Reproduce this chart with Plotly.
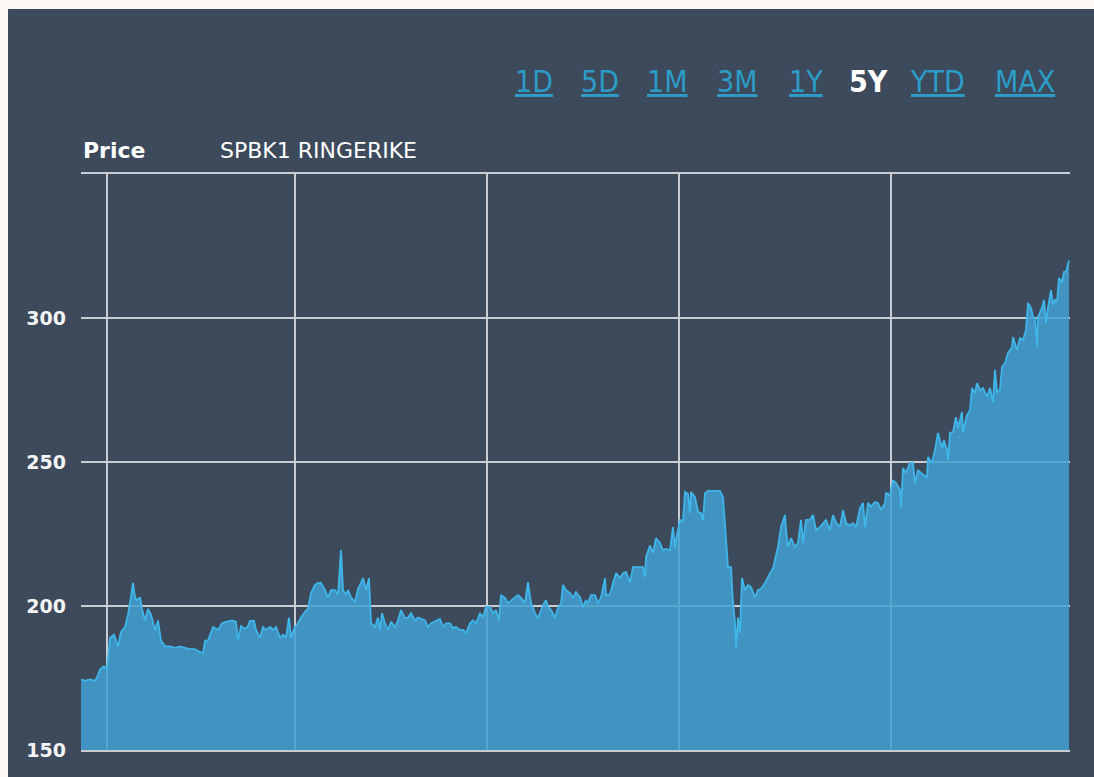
import plotly.graph_objects as go

# Closing price per trading session (session 0 = first day of the 5Y window)
session = [
    0, 4, 9, 14, 17, 19, 23, 26, 29, 33,
    37, 40, 44, 47, 49, 52, 54, 56, 59, 61,
    64, 67, 70, 74, 77, 80, 84, 89, 94, 99,
    104, 109, 114, 119, 122, 124, 127, 132, 137, 141,
    145, 151, 155, 157, 160, 164, 167, 169, 173, 175,
    179, 182, 185, 189, 192, 195, 199, 202, 205, 208,
    210, 214, 217, 220, 224, 227, 230, 234, 237, 240,
    244, 247, 250, 254, 257, 260, 262, 265, 267, 270,
    274, 277, 280, 282, 285, 288, 290, 294, 297, 299,
    301, 304, 307, 310, 314, 317, 320, 324, 327, 330,
    334, 337, 344, 347, 350, 355, 359, 362, 365, 369,
    372, 375, 379, 382, 385, 389, 392, 395, 399, 402,
    405, 409, 412, 415, 418, 420, 424, 427, 430, 434,
    437, 440, 444, 447, 450, 454, 457, 460, 463, 465,
    467, 470, 474, 477, 480, 482, 485, 489, 492, 495,
    499, 502, 505, 507, 510, 514, 517, 520, 524, 525,
    529, 532, 535, 539, 542, 545, 549, 552, 555, 559,
    562, 564, 565, 569, 572, 575, 579, 582, 585, 589,
    592, 594, 595, 599, 602, 604, 607, 609, 610, 614,
    617, 620, 622, 624, 627, 632, 637, 639, 642, 644,
    647, 650, 652, 654, 655, 657, 659, 661, 664, 667,
    670, 674, 677, 680, 684, 690, 692, 697, 700, 704,
    705, 707, 710, 714, 717, 720, 722, 725, 729, 732,
    735, 739, 742, 745, 749, 752, 755, 759, 762, 765,
    769, 772, 775, 779, 782, 784, 787, 790, 794, 797,
    800, 804, 805, 809, 812, 815, 819, 820, 822, 825,
    829, 832, 834, 837, 840, 843, 846, 847, 851, 854,
    857, 861, 863, 866, 867, 869, 872, 875, 877, 881,
    882, 886, 889, 891, 894, 896, 899, 902, 906, 909,
    912, 914, 916, 919, 921, 924, 927, 931, 932, 936,
    939, 942, 945, 947, 950, 952, 954, 956, 957, 961,
    963, 965, 967, 970, 972, 974, 976, 978, 981, 983,
    985, 987, 988,
]

price = [
    174.5, 174, 174.5, 174, 176, 178, 179, 178, 189, 190,
    186, 191, 192.7, 197, 201, 208, 203, 202, 203, 199,
    195, 199, 197, 191.7, 195, 188, 186, 186, 185.5, 186,
    185.5, 185, 185, 184, 183.7, 188, 188, 192.7, 191.7, 194,
    194.5, 195, 194.5, 188, 193, 192, 193, 194.8, 194.8, 191.7,
    189, 192.7, 191.7, 192.7, 191.7, 192.7, 189, 190, 189, 196,
    189, 192.7, 194, 196, 198, 199, 204.5, 207.3, 208, 208,
    205.5, 203, 205.5, 205.5, 204, 219.4, 205.5, 204, 205.5, 203,
    201.4, 206, 208, 209.7, 205.5, 209.7, 194, 192.7, 196, 191.7,
    197.5, 194, 191.7, 194.5, 192.7, 195, 198.6, 195.8, 196, 197.5,
    195, 196, 195, 192.7, 194, 195, 195.5, 192.7, 194, 194,
    192.4, 192.7, 191.7, 191.7, 190.6, 194, 195, 194, 197.5, 196,
    199.7, 199.7, 197.5, 198.6, 195, 203.8, 202.8, 201, 202, 203,
    203.8, 202.8, 201, 208.3, 201, 197.5, 195.8, 198.6, 201, 202,
    199.7, 198.6, 196, 199.3, 201, 207.3, 205.5, 204.5, 202.8, 204.8,
    203, 199.7, 202, 201, 203.8, 203.8, 201, 203, 209.7, 203.8,
    204, 208, 211.4, 209.7, 211.4, 211.8, 208.3, 213.5, 213.5, 213.5,
    213.5, 210, 217, 221, 218.4, 223.6, 221.9, 219.4, 219.8, 219.4,
    227.4, 220, 222.9, 229.9, 229.5, 239.6, 239, 232.3, 239.6, 237.8,
    232.7, 232.3, 229.9, 239.2, 240, 240, 240, 240, 237.8, 228.8,
    213.5, 213.5, 201, 194, 185.4, 196, 190.6, 209.7, 205.5, 207.3,
    206.6, 203, 205.5, 206, 208, 212, 213, 220.5, 227.4, 231.6,
    226.4, 220.5, 223.6, 220.5, 221.9, 229.9, 221.9, 229.9, 229.9, 231.6,
    226.4, 227.4, 228.8, 229.9, 226.4, 231.6, 229, 227.4, 233.3, 228.8,
    228, 228.8, 227.4, 234, 235.8, 227.4, 235.8, 234.5, 236.1, 235.8,
    233.3, 235.8, 239.2, 238.5, 243.7, 242.7, 240.3, 234, 247.9, 246.2,
    249.7, 249.7, 242.7, 247.2, 246.2, 245.5, 244.4, 251.7, 249.7, 254.2,
    260.1, 254.9, 257.6, 254.2, 250.7, 260.1, 260.4, 265.6, 261.8, 267.4,
    260.4, 266.3, 268, 275.7, 274, 277.4, 275, 275.7, 272.6, 275.7,
    270.8, 282, 274.3, 275, 283, 284.4, 287.8, 289.9, 293.4, 288.9,
    293, 292.4, 295.8, 305.2, 303.5, 300.4, 300, 290, 300.4, 303.5,
    306.3, 298.3, 303.5, 309.7, 304.5, 306.3, 305.6, 313.9, 312.5, 316,
    316, 319.4, 320,
]

# Axis ticks
y_ticks = [150, 200, 250, 300]
y_labels = ["150", "200", "250", "300"]
x_grid = [26, 214, 406, 598, 810]

# Period selector
periods = ["1D", "5D", "1M", "3M", "1Y", "5Y", "YTD", "MAX"]
active_period = "5Y"
period_x = [0.4368, 0.5036, 0.5703, 0.6411, 0.7139, 0.7745, 0.8362, 0.9222]

BG = "#3c4a5c"
GRID = "#c9ccd0"

fig = go.Figure()
fig.add_trace(go.Scatter(
    x=session, y=price,
    mode="lines",
    line=dict(color="#3fb6ea", width=1.8),
    fill="tozeroy",
    fillcolor="rgba(66,160,210,0.86)",
    hoverinfo="skip",
    showlegend=False,
))

fig.update_layout(
    width=1094, height=777,
    margin=dict(l=81, r=24, t=174, b=27),
    paper_bgcolor="#fdf7f3",
    plot_bgcolor=BG,
    font=dict(family="DejaVu Sans, Verdana, sans-serif", color="#ffffff"),
    xaxis=dict(
        range=[0, 989], tickvals=x_grid, ticktext=[""] * len(x_grid),
        showgrid=True, gridcolor=GRID, gridwidth=1.5,
        zeroline=False, ticks="", fixedrange=True,
        # frame lines along the top (350) and bottom (150) of the plot
        showline=True, mirror=True, linecolor=GRID, linewidth=1.5,
    ),
    yaxis=dict(
        range=[150, 350], tickvals=y_ticks, ticktext=y_labels,
        showgrid=True, gridcolor=GRID, gridwidth=1.5,
        zeroline=False, showline=False, ticks="",
        tickfont=dict(family="DejaVu Sans", size=19, color="#f4f4f4", weight="bold"),
        ticklabelstandoff=14, fixedrange=True,
    ),
    shapes=[
        dict(type="rect", xref="paper", yref="paper",
             x0=-0.0738, x1=1.03, y0=-0.06, y1=1.2865,
             fillcolor=BG, line=dict(width=0), layer="below"),
    ],
)

# Series header
fig.add_annotation(
    x=0.0, y=1.04, xref="paper", yref="paper",
    xanchor="left", yanchor="middle", showarrow=False,
    text="<b>Price</b>", font=dict(size=22, color="#ffffff"),
)
fig.add_annotation(
    x=0.1385, y=1.04, xref="paper", yref="paper",
    xanchor="left", yanchor="middle", showarrow=False,
    text="SPBK1 RINGERIKE", font=dict(size=22, color="#ffffff"),
)

# Period selector links
for label, px in zip(periods, period_x):
    active = label == active_period
    fig.add_annotation(
        x=px, y=1.16, xref="paper", yref="paper",
        xanchor="left", yanchor="middle", showarrow=False,
        text=label,
        font=dict(
            family="DejaVu Sans Condensed, Liberation Sans Narrow, DejaVu Sans",
            size=30,
            color="#ffffff" if active else "#2b9dc8",
            weight="bold" if active else "normal",
            lineposition="none" if active else "under",
        ),
    )

fig.write_html("out.html")
